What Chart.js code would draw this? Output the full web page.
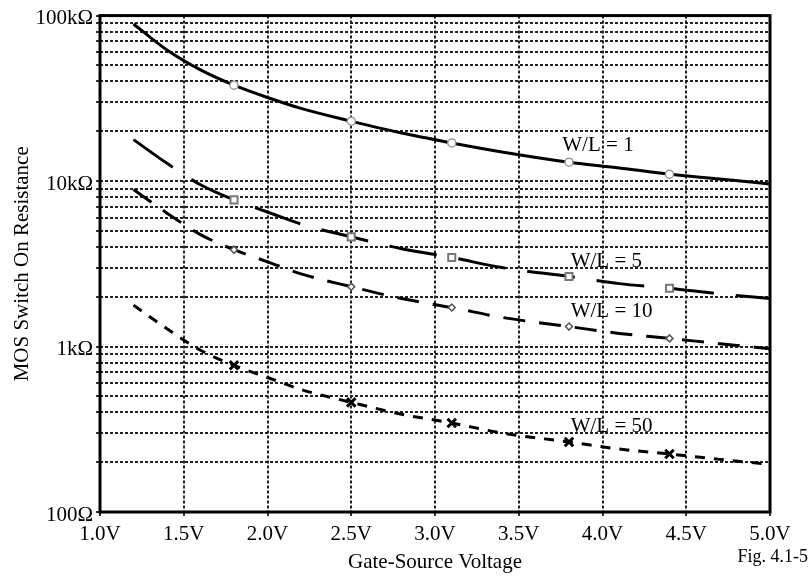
<!DOCTYPE html>
<html>
<head>
<meta charset="utf-8">
<script src="https://cdn.jsdelivr.net/npm/chart.js@4.4.1/dist/chart.umd.min.js"></script>
<style>
  body { margin: 0; background: #fff; }
  canvas { display: block; }
</style>
</head>
<body>
<canvas id="ronChart" width="809" height="576"></canvas>
<script>
// gate-source voltage samples (V)
var volts = [1.2, 1.4, 1.6, 1.8, 2.0, 2.2, 2.5, 2.8, 3.1, 3.4, 3.8, 4.1, 4.4, 4.7, 5.0];
// on resistance (ohms)
var ronWL1  = [89000, 62000, 47000, 38000, 32000, 27500, 23000, 19500, 17000, 15000, 13000, 12000, 11000, 10300, 9600];
var ronWL5  = [17800, 12800, 9500, 7700, 6500, 5500, 4600, 3900, 3450, 3000, 2650, 2400, 2250, 2080, 1950];
var ronWL10 = [8900, 6400, 4750, 3850, 3250, 2750, 2300, 1950, 1720, 1500, 1320, 1200, 1120, 1040, 970];
var ronWL50 = [1780, 1280, 950, 770, 650, 550, 460, 390, 345, 300, 265, 240, 224, 208, 194];
// voltages where the curves carry a marker
var markerVolts = [1.8, 2.5, 3.1, 3.8, 4.4];

// axis ticks
var xTicks = [1.0, 1.5, 2.0, 2.5, 3.0, 3.5, 4.0, 4.5, 5.0];
var yTicks = [100, 200, 300, 400, 500, 600, 700, 800, 900,
              1000, 2000, 3000, 4000, 5000, 6000, 7000, 8000, 9000,
              10000, 20000, 30000, 40000, 50000, 60000, 70000, 80000, 90000, 100000];
var yTickLabels = {100: '100Ω', 1000: '1kΩ', 10000: '10kΩ', 100000: '100kΩ'};

// curve labels
var curveNames = ['W/L = 1', 'W/L = 5', 'W/L = 10', 'W/L = 50'];
var nameVolts = [3.76, 3.81, 3.81, 3.81];
var nameOhms = [15300, 3010, 1500, 304];

var serif = "'Liberation Serif', 'Times New Roman', Times, serif";

function pts(arr) {
  return volts.map(function (v, i) { return {x: v, y: arr[i]}; });
}
function markerRadius(r) {
  return function (ctx) {
    return (ctx.raw && markerVolts.indexOf(ctx.raw.x) >= 0) ? r : 0;
  };
}

var framePlugin = {
  id: 'frame',
  afterDraw: function (chart) {
    var c = chart.ctx, a = chart.chartArea;
    var xs = chart.scales.x, ys = chart.scales.y;
    c.save();
    c.strokeStyle = '#000';
    c.lineWidth = 3;
    c.setLineDash([]);
    c.strokeRect(a.left, a.top, a.right - a.left, a.bottom - a.top);
    c.fillStyle = '#000';
    c.font = '21px ' + serif;
    c.textAlign = 'left';
    c.textBaseline = 'alphabetic';
    for (var i = 0; i < curveNames.length; i++) {
      c.fillText(curveNames[i], xs.getPixelForValue(nameVolts[i]), ys.getPixelForValue(nameOhms[i]));
    }
    c.font = '18px ' + serif;
    c.textAlign = 'right';
    c.fillText('Fig. 4.1-5', 808, 562);
    c.restore();
  }
};

var lineCommon = {
  borderColor: '#000',
  borderWidth: 3,
  fill: false,
  cubicInterpolationMode: 'monotone',
  pointBackgroundColor: '#fff'
};

var ctx = document.getElementById('ronChart').getContext('2d');
var ronChart = new Chart(ctx, {
  type: 'line',
  data: {
    datasets: [
      Object.assign({}, lineCommon, {
        label: 'W/L = 1', data: pts(ronWL1), borderDash: [],
        pointStyle: 'circle', pointRadius: markerRadius(4),
        pointBorderColor: '#999', pointBorderWidth: 1.5
      }),
      Object.assign({}, lineCommon, {
        label: 'W/L = 5', data: pts(ronWL5), borderDash: [48, 22],
        pointStyle: 'rect', pointRadius: markerRadius(5),
        pointBorderColor: '#777', pointBorderWidth: 2
      }),
      Object.assign({}, lineCommon, {
        label: 'W/L = 10', data: pts(ronWL10), borderDash: [22, 14],
        pointStyle: 'rectRot', pointRadius: markerRadius(3.5),
        pointBorderColor: '#555', pointBorderWidth: 1.5
      }),
      Object.assign({}, lineCommon, {
        label: 'W/L = 50', data: pts(ronWL50), borderDash: [10, 9],
        pointStyle: 'crossRot', pointRadius: markerRadius(6),
        pointBorderColor: '#000', pointBorderWidth: 3
      })
    ]
  },
  options: {
    responsive: false,
    animation: false,
    layout: { padding: { top: 15, right: 39, bottom: 0, left: 0 } },
    plugins: {
      legend: { display: false },
      tooltip: { enabled: false }
    },
    scales: {
      x: {
        type: 'linear',
        min: 1, max: 5,
        afterFit: function (s) { s.height = 64; },
        afterBuildTicks: function (s) {
          s.ticks = xTicks.map(function (v) { return {value: v}; });
        },
        ticks: {
          color: '#000',
          font: { family: serif, size: 21 },
          padding: 6,
          maxRotation: 0,
          callback: function (v) { return v.toFixed(1) + 'V'; }
        },
        grid: { color: '#222', lineWidth: 2, drawTicks: true, tickLength: 4, tickColor: '#333', tickWidth: 2 },
        border: { display: false, dash: [3, 2] },
        title: {
          display: true, text: 'Gate-Source Voltage', color: '#000',
          font: { family: serif, size: 21 }, padding: { top: 0, bottom: 1 }
        }
      },
      y: {
        type: 'logarithmic',
        min: 100, max: 100000,
        afterFit: function (s) { s.width = 100; },
        afterBuildTicks: function (s) {
          s.ticks = yTicks.map(function (v) { return {value: v}; });
        },
        ticks: {
          color: '#000',
          font: { family: serif, size: 21 },
          padding: 3,
          labelOffset: 3,
          autoSkip: false,
          callback: function (v) { return yTickLabels[v] || ''; }
        },
        grid: { color: '#222', lineWidth: 2, drawTicks: true, tickLength: 4, tickColor: '#333', tickWidth: 2 },
        border: { display: false, dash: [3, 2] },
        title: {
          display: true, text: 'MOS Switch On Resistance', color: '#000',
          font: { family: serif, size: 21 }, padding: { top: 10, bottom: 0 }
        }
      }
    }
  },
  plugins: [framePlugin]
});
</script>
</body>
</html>
